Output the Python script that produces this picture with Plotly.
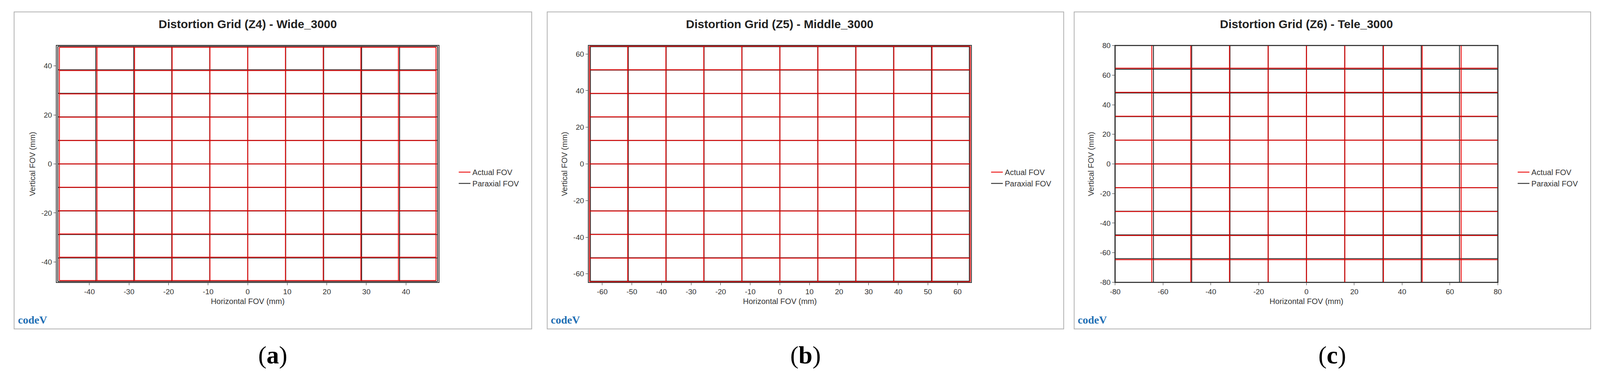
import plotly.graph_objects as go

W, H = 4415, 975

titles = ["Distortion Grid (Z4) - Wide_3000",
          "Distortion Grid (Z5) - Middle_3000",
          "Distortion Grid (Z6) - Tele_3000"]
panel_labels = ["a", "b", "c"]

# grid line positions (mm), same for horizontal and vertical lines
paraxial_a = [-48, -38.4, -28.8, -19.2, -9.6, 0, 9.6, 19.2, 28.8, 38.4, 48]
actual_a = [-47.6, -38.1, -28.6, -19.1, -9.55, 0, 9.55, 19.1, 28.6, 38.1, 47.6]
paraxial_b = [-64, -51.2, -38.4, -25.6, -12.8, 0, 12.8, 25.6, 38.4, 51.2, 64]
actual_b = [-64.3, -51.4, -38.5, -25.7, -12.85, 0, 12.85, 25.7, 38.5, 51.4, 64.3]
paraxial_c = [-80, -64, -48, -32, -16, 0, 16, 32, 48, 64, 80]
actual_c = [-80.8, -64.7, -48.4, -32.2, -16.05, 0, 16.05, 32.2, 48.4, 64.7, 80.8]

x_ranges = [[-48.3, 48.3], [-64.6, 64.6], [-80, 80]]
y_ranges = [[-48.3, 48.3], [-64.6, 64.6], [-80, 80]]
x_ticks = [list(range(-40, 41, 10)), list(range(-60, 61, 10)), list(range(-80, 81, 20))]
y_ticks = [list(range(-40, 41, 20)), list(range(-60, 61, 20)), list(range(-80, 81, 20))]

grids = [(actual_a, paraxial_a), (actual_b, paraxial_b), (actual_c, paraxial_c)]

# layout in reference pixels, converted to paper fractions
boxes = [(24, 1461), (1504, 2938), (2967, 4401)]
plots = [(142, 1203), (1619, 2681), (3081, 4143)]
box_top, box_bot = 21, 850
plot_top, plot_bot = 109, 728


def px(x):
    return x / W


def py(y):
    return 1 - y / H


def grid_xy(pos):
    lo, hi = pos[0], pos[-1]
    xs, ys = [], []
    for p in pos:
        xs += [p, p, None]
        ys += [lo, hi, None]
    for p in pos:
        xs += [lo, hi, None]
        ys += [p, p, None]
    return xs, ys


fig = go.Figure()
layout = dict(autosize=True, margin=dict(l=0, r=0, t=0, b=0),
              paper_bgcolor="white", plot_bgcolor="white",
              font=dict(family="Liberation Sans", color="#333"),
              shapes=[], annotations=[])

for i in range(3):
    sfx = "" if i == 0 else str(i + 1)
    actual, paraxial = grids[i]
    leg = "legend" if i == 0 else "legend" + str(i + 1)
    xs, ys = grid_xy(paraxial)
    fig.add_trace(go.Scatter(x=xs, y=ys, mode="lines", name="Paraxial FOV",
                             line=dict(color="#2a2a2a", width=2.2),
                             xaxis="x" + sfx, yaxis="y" + sfx, legend=leg, legendrank=2))
    xs, ys = grid_xy(actual)
    fig.add_trace(go.Scatter(x=xs, y=ys, mode="lines", name="Actual FOV",
                             line=dict(color="rgba(235,0,0,0.88)", width=2.5),
                             xaxis="x" + sfx, yaxis="y" + sfx, legend=leg, legendrank=1))

    x0, x1 = plots[i]
    axis_common = dict(showgrid=False, zeroline=False, showline=True, mirror=True,
                       linecolor="#333", linewidth=2, ticks="outside", ticklen=6,
                       tickcolor="#333", tickfont=dict(size=19, color="#333"))
    layout["xaxis" + sfx] = dict(axis_common, domain=[px(x0), px(x1)], range=x_ranges[i],
                                 tickvals=x_ticks[i], ticktext=[str(t) for t in x_ticks[i]],
                                 anchor="y" + sfx,
                                 title=dict(text="Horizontal FOV (mm)", font=dict(size=20), standoff=8))
    layout["yaxis" + sfx] = dict(axis_common, domain=[py(plot_bot), py(plot_top)], range=y_ranges[i],
                                 tickvals=y_ticks[i], ticktext=[str(t) for t in y_ticks[i]],
                                 anchor="x" + sfx,
                                 title=dict(text="Vertical FOV (mm)", font=dict(size=20), standoff=10))
    layout[leg] = dict(x=px(x1 + 50), y=py(420), xanchor="left", yanchor="top",
                       font=dict(size=20, color="#333"), bgcolor="rgba(0,0,0,0)",
                       tracegroupgap=4, itemwidth=30)

    b0, b1 = boxes[i]
    mid = (b0 + b1) / 2
    layout["shapes"].append(dict(type="rect", xref="paper", yref="paper",
                                 x0=px(b0), x1=px(b1), y0=py(box_bot), y1=py(box_top),
                                 line=dict(color="#b0b0b0", width=2)))
    layout["annotations"].append(dict(text="<b>" + titles[i] + "</b>", xref="paper", yref="paper",
                                      x=px((x0 + x1) / 2), y=py(53), xanchor="center", yanchor="middle",
                                      showarrow=False, font=dict(size=30, color="#222")))
    layout["annotations"].append(dict(text="<b>code</b><b>V</b>", xref="paper", yref="paper",
                                      x=px(b0 + 8), y=py(826), xanchor="left", yanchor="middle",
                                      showarrow=False,
                                      font=dict(size=28, color="#1f6fb4", family="Liberation Serif")))
    layout["annotations"].append(dict(text="(<b>" + panel_labels[i] + "</b>)", xref="paper", yref="paper",
                                      x=px(mid), y=py(918), xanchor="center", yanchor="middle",
                                      showarrow=False,
                                      font=dict(size=64, color="black", family="Liberation Serif")))

fig.update_layout(**layout)
fig.write_html("out.html", default_width="100vw", default_height="100vh",
               config={"responsive": True, "displayModeBar": False},
               post_script="document.body.style.margin='0';document.body.style.overflow='hidden';"
                           "window.dispatchEvent(new Event('resize'));")
